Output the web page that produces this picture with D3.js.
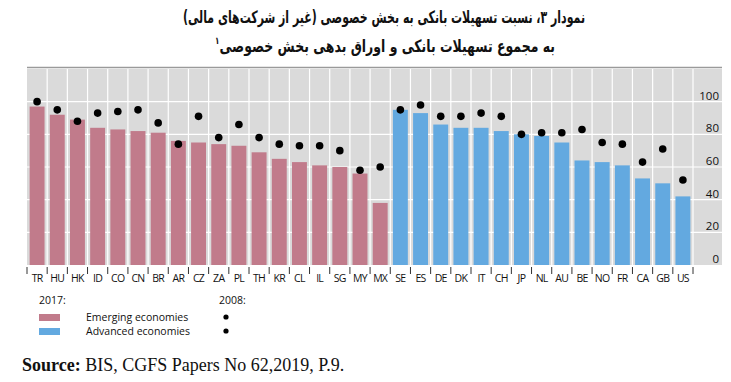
<!DOCTYPE html>
<html>
<head>
<meta charset="utf-8">
<script src="https://cdn.jsdelivr.net/npm/d3@7"></script>
<style>
  body { margin: 0; background: #fff; }
</style>
</head>
<body>
<div id="chart"></div>
<script>
// ---- data
var emerging = ["TR","HU","HK","ID","CO","CN","BR","AR","CZ","ZA","PL","TH","KR","CL","IL","SG","MY","MX"];
var advanced = ["SE","ES","DE","DK","IT","CH","JP","NL","AU","BE","NO","FR","CA","GB","US"];
var emerging2017 = [97, 92, 89, 84, 83, 82, 81, 76, 75, 74, 73, 69, 65, 63, 61, 60, 56, 38];
var emerging2008 = [100, 95, 88, 93, 94, 95, 87, 74, 91, 78, 86, 78, 74, 73, 73, 70, 58, 60];
var advanced2017 = [95, 93, 86, 84, 84, 82, 80, 79, 75, 64, 63, 61, 53, 50, 42];
var advanced2008 = [95, 98, 91, 91, 93, 91, 80, 81, 81, 83, 75, 74, 63, 71, 52];
var yTicks = [0, 20, 40, 60, 80, 100];

var svgWidth = 731;
var svgHeight = 382;
var pink = "#c17b8b";
var blue = "#63a9e0";

var dataset = emerging.map(function(c, i) {
    return {key: c, v17: emerging2017[i], v08: emerging2008[i], grp: "em"};
}).concat(advanced.map(function(c, i) {
    return {key: c, v17: advanced2017[i], v08: advanced2008[i], grp: "ad"};
}));

var svg = d3.select("#chart").append("svg")
    .attr("width", svgWidth)
    .attr("height", svgHeight);

// title (persian, right to left) - squeezed to the width of the picture
var title = svg.append("g")
    .attr("font-family", "'DejaVu Sans Condensed', 'DejaVu Sans'")
    .attr("font-weight", "bold")
    .attr("font-size", 17)
    .attr("fill", "#111");
title.append("text")
    .attr("x", 384).attr("y", 23)
    .attr("direction", "rtl")
    .attr("text-anchor", "middle")
    .attr("textLength", 402)
    .attr("lengthAdjust", "spacingAndGlyphs")
    .text("نمودار ۳، نسبت تسهیلات بانکی به بخش خصوصی (غیر از شرکت‌های مالی)");
var t2 = title.append("text")
    .attr("x", 385).attr("y", 52)
    .attr("direction", "rtl")
    .attr("text-anchor", "middle")
    .attr("textLength", 340)
    .attr("lengthAdjust", "spacingAndGlyphs");
t2.append("tspan").text("به مجموع تسهیلات بانکی و اوراق بدهی بخش خصوصی");
t2.append("tspan").attr("font-size", 10).attr("dy", -8).text("۱");

// scales
var x = d3.scaleBand()
    .domain(dataset.map(function(d) { return d.key; }))
    .range([27, 693])
    .paddingInner(0.26)
    .paddingOuter(0.13);
var y = d3.scaleLinear()
    .domain([0, 120])
    .range([265, 69]);
var step = x.step();

// background panel
svg.append("rect")
    .attr("x", 27).attr("y", y(120))
    .attr("width", 722 - 27).attr("height", y(0) - y(120))
    .attr("fill", "#dadada");
svg.append("line")
    .attr("x1", 27).attr("x2", 722)
    .attr("y1", y(120) - 1.5).attr("y2", y(120) - 1.5)
    .attr("stroke", "#9a9a9a").attr("stroke-width", 1.5);

// grid lines
svg.append("g").selectAll("line")
    .data(yTicks.slice(1))
    .enter().append("line")
    .attr("x1", 27).attr("x2", 722)
    .attr("y1", function(d) { return y(d); })
    .attr("y2", function(d) { return y(d); })
    .attr("stroke", "#fff").attr("stroke-width", 1.2);
svg.append("g").selectAll("line")
    .data(d3.range(1, dataset.length + 1))
    .enter().append("line")
    .attr("x1", function(i) { return 27 + i * step; })
    .attr("x2", function(i) { return 27 + i * step; })
    .attr("y1", y(120)).attr("y2", y(0))
    .attr("stroke", "#fff").attr("stroke-width", 1.2);

// y labels on the right
svg.append("g")
    .attr("font-family", "Open Sans")
    .attr("font-size", 11.5)
    .attr("fill", "#111")
    .selectAll("text")
    .data(yTicks)
    .enter().append("text")
    .attr("x", 719)
    .attr("y", function(d) { return y(d) - 2; })
    .attr("text-anchor", "end")
    .text(function(d) { return d; });

// bars 2017
svg.append("g").selectAll("rect")
    .data(dataset)
    .enter().append("rect")
    .attr("x", function(d) { return x(d.key); })
    .attr("width", x.bandwidth())
    .attr("y", function(d) { return y(d.v17); })
    .attr("height", function(d) { return y(0) - y(d.v17); })
    .attr("fill", function(d) { return d.grp == "em" ? pink : blue; });

// dots 2008
svg.append("g").selectAll("circle")
    .data(dataset)
    .enter().append("circle")
    .attr("cx", function(d) { return x(d.key) + x.bandwidth() / 2; })
    .attr("cy", function(d) { return y(d.v08); })
    .attr("r", 3.8)
    .attr("fill", "#000");

// x axis: ticks between categories, labels centred
svg.append("g").selectAll("line")
    .data(d3.range(0, dataset.length + 1))
    .enter().append("line")
    .attr("x1", function(i) { return 27 + i * step; })
    .attr("x2", function(i) { return 27 + i * step; })
    .attr("y1", 267).attr("y2", 274)
    .attr("stroke", "#333").attr("stroke-width", 1);
svg.append("g")
    .attr("font-family", "Open Sans")
    .attr("font-size", 10.5)
    .attr("fill", "#111")
    .selectAll("text")
    .data(dataset)
    .enter().append("text")
    .attr("x", function(d) { return x(d.key) + x.bandwidth() / 2; })
    .attr("y", 282)
    .attr("text-anchor", "middle")
    .attr("letter-spacing", -0.7)
    .text(function(d) { return d.key; });

// legend
var leg = svg.append("g")
    .attr("font-family", "Open Sans")
    .attr("font-size", 10.5)
    .attr("fill", "#111");
leg.append("text").attr("x", 39).attr("y", 304).text("2017:");
leg.append("text").attr("x", 219).attr("y", 304).text("2008:");
leg.append("rect").attr("x", 39).attr("y", 314).attr("width", 21).attr("height", 7).attr("fill", pink);
leg.append("rect").attr("x", 39).attr("y", 328).attr("width", 21).attr("height", 7).attr("fill", blue);
leg.append("text").attr("x", 86).attr("y", 321).text("Emerging economies");
leg.append("text").attr("x", 86).attr("y", 335).text("Advanced economies");
leg.append("circle").attr("cx", 226).attr("cy", 317).attr("r", 2.6).attr("fill", "#000");
leg.append("circle").attr("cx", 226).attr("cy", 331).attr("r", 2.6).attr("fill", "#000");

// source line
var src = svg.append("text")
    .attr("x", 22).attr("y", 371)
    .attr("font-family", "Liberation Serif")
    .attr("font-size", 18)
    .attr("fill", "#111");
src.append("tspan").attr("font-weight", "bold").text("Source:");
src.append("tspan").text(" BIS, CGFS Papers No 62,2019, P.9.");
</script>
</body>
</html>
